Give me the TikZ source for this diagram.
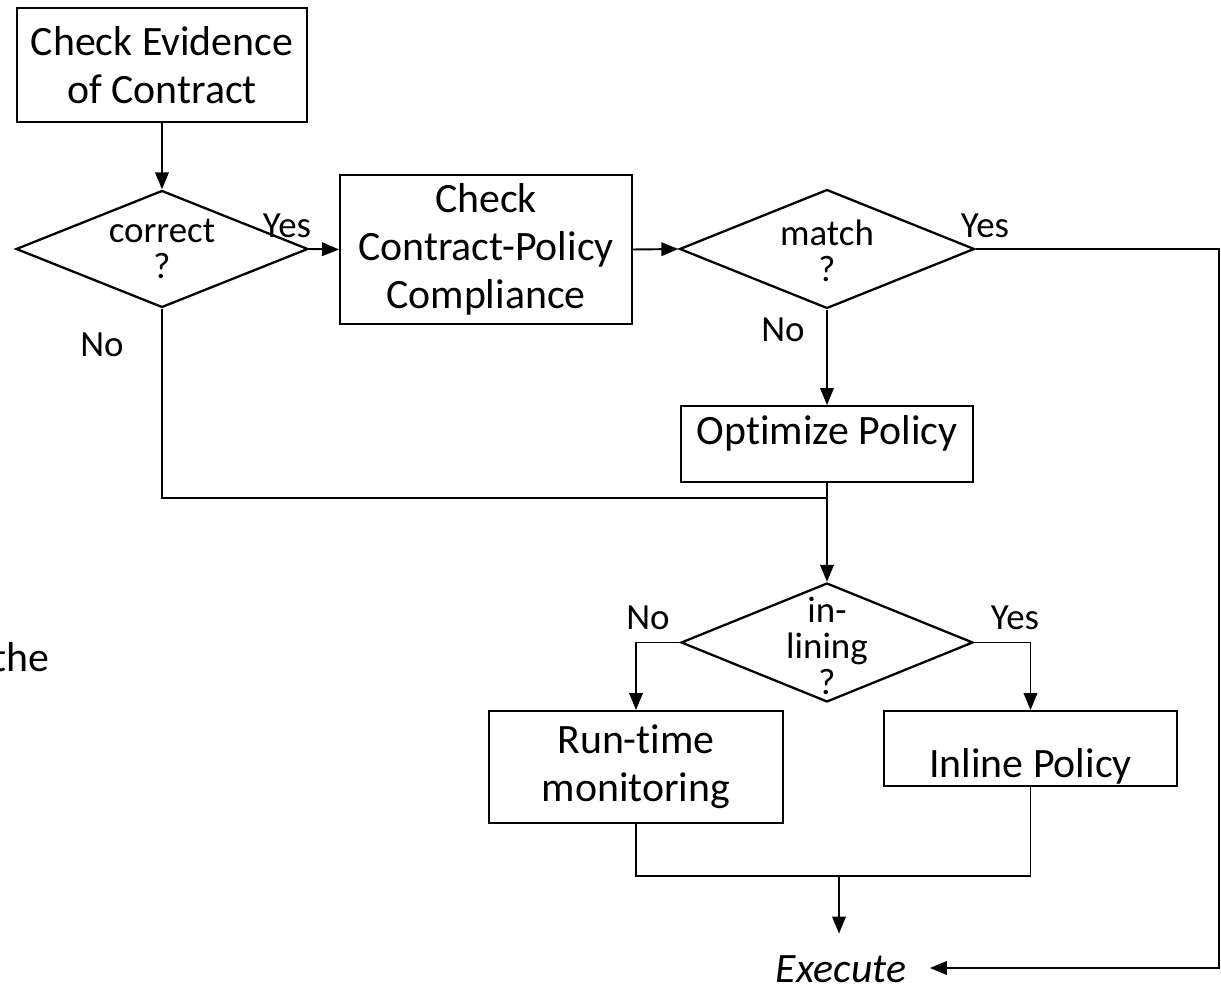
\documentclass[tikz,border=0pt]{standalone}
\usepackage{fontspec}
\setmainfont{Carlito}[Ligatures={NoCommon}]
\usetikzlibrary{shapes.geometric,arrows.meta}
\begin{document}
\begin{tikzpicture}[x=0.02cm, y=-0.02cm, line width=1.1pt,
  every node/.style={font=\fontsize{23.8}{27.5}\selectfont},
  block/.style={draw,align=center,inner sep=0pt,minimum width=5.86cm},
  decision/.style={draw,diamond,line width=1.3pt,inner sep=0pt,minimum width=5.86cm,minimum height=2.36cm},
  dtext/.style={font=\fontsize{21}{20.4}\selectfont,align=center},
  answer/.style={font=\fontsize{21}{24}\selectfont},
  arr/.style={-{Triangle[length=0.34cm,width=0.27cm]}}]
\useasboundingbox (0,0) rectangle (1221,989);
% boxes and decisions
\node[block,minimum width=5.8cm,minimum height=2.28cm] (ev) at (162,65) {Check Evidence\\of Contract};
\node[decision,minimum width=5.84cm,minimum height=2.34cm,label={[dtext]center:{correct\\?}}] (cor) at (162,249) {};
\node[block,minimum width=5.84cm,minimum height=2.98cm] (cmp) at (486,249.5) {Check\\Contract-Policy\\Compliance};
\node[decision,minimum width=5.9cm,minimum height=2.38cm,label={[dtext,yshift=-0.04cm]center:{match\\?}}] (mat) at (827,249) {};
\node[block,minimum width=5.84cm,text height=0.78cm,text depth=0.74cm] (opt) at (827,444) {Optimize Policy};
\node[decision,minimum width=5.84cm,minimum height=2.38cm,label={[dtext,yshift=-0.07cm]center:{in-\\lining\\?}}] (inl) at (827,642.5) {};
\node[block,minimum width=5.88cm,minimum height=2.24cm] (run) at (636,767) {Run-time\\monitoring};
\node[block,text height=1.34cm,text depth=0.16cm] (ipl) at (1030.5,748.5) {Inline Policy};
\node[font=\fontsize{23.8}{27.5}\selectfont\itshape] (exe) at (841,969) {Execute};
\node[anchor=east,inner sep=0pt] (cut) at (50,657) {the};
% yes / no
\node[answer] (y1) at (287,226) {Yes};
\node[answer] (n1) at (102,345) {No};
\node[answer] (y2) at (985,226) {Yes};
\node[answer] (n2) at (783,330) {No};
\node[answer] (n3) at (648,618) {No};
\node[answer] (y3) at (1015,618) {Yes};
% connectors
\coordinate (j1) at (827,498);
\coordinate (j2) at (839,876);
\coordinate (rt) at (1219,249);
\draw[arr] (ev) -- (cor);
\draw[arr] (cor.east) -- (cmp.west);
\draw[arr] (cmp.east) -- (mat.west);
\draw[arr] (mat) -- (opt);
\draw (cor.south) |- (j1);
\draw[arr] (opt) -- (inl);
\draw[arr] (inl.west) -| (run.north);
\draw[arr] (inl.east) -| (ipl.north);
\draw (run.south) |- (ipl.south |- j2) -- (ipl.south);
\draw[arr,shorten >=0.3cm] (j2) -- (j2 |- exe.north);
\draw[arr,shorten >=0.34cm] (mat.east) -- (rt) |- ([yshift=0.02cm]exe.east);
\end{tikzpicture}
\end{document}
